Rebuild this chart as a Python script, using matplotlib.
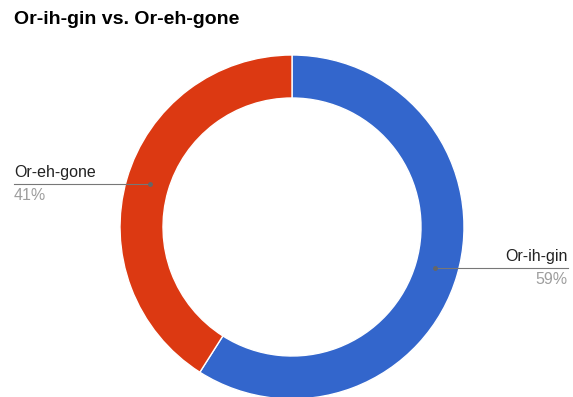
import matplotlib.pyplot as plt

labels = ['Or-ih-gin', 'Or-eh-gone']
values = [59, 41]
colors = ['#3366CC', '#DC3912']
title = 'Or-ih-gin vs. Or-eh-gone'

W, H = 573, 397

fig = plt.figure(figsize=(W / 100, H / 100), dpi=100)
ax = fig.add_axes([0, 0, 1, 1])

# pixel coords with y going up
cx, cy, r = 292, H - 227, 172
ax.pie(values, colors=colors, startangle=90, counterclock=False,
       center=(cx, cy), radius=r, frame=True,
       wedgeprops=dict(width=43, edgecolor='white', linewidth=1))
ax.set_xlim(0, W)
ax.set_ylim(0, H)
ax.axis('off')

plt.rcParams['font.family'] = ['Liberation Sans', 'DejaVu Sans']
fig.text(14 / W, 1 - 20 / H, title, fontsize=14, fontweight='bold',
         va='center', ha='left', color='#000000')

# left label (Or-eh-gone)
ly = H - 184
ax.plot([14, 150], [ly, ly], color='#777777', lw=0.8)
ax.plot([150], [ly], 'o', color='#666666', ms=2.5)
ax.text(14, ly + 4, labels[1], fontsize=11.5, ha='left', va='bottom', color='#222222')
ax.text(14, ly - 4, f'{values[1]}%', fontsize=11.5, ha='left', va='top', color='#9e9e9e')

# right label (Or-ih-gin)
ry = H - 268
ax.plot([435, 568], [ry, ry], color='#777777', lw=0.8)
ax.plot([435], [ry], 'o', color='#666666', ms=2.5)
ax.text(568, ry + 4, labels[0], fontsize=11.5, ha='right', va='bottom', color='#222222')
ax.text(568, ry - 4, f'{values[0]}%', fontsize=11.5, ha='right', va='top', color='#9e9e9e')

fig.savefig('out.png', dpi=100)
